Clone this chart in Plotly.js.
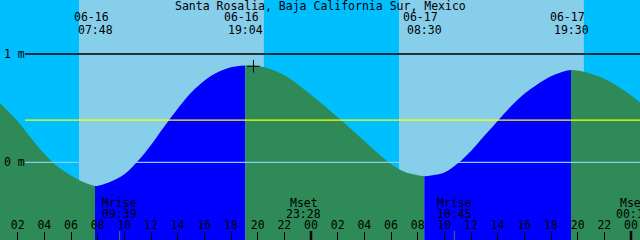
<!DOCTYPE html>
<html><head><meta charset="utf-8">
<script src="https://cdn.plot.ly/plotly-3.0.1.min.js"></script>
<style>html,body{margin:0;padding:0;background:#fff}#chart{width:640px;height:240px}</style>
</head><body><div id="chart"></div>
<script>
const stationName = 'Santa Rosalia, Baja California Sur, Mexico';

// Tide level (m)
const tideTimes = [
  '2024-06-16 00:40','2024-06-16 01:00','2024-06-16 02:00','2024-06-16 03:00','2024-06-16 04:00',
  '2024-06-16 05:00','2024-06-16 06:00','2024-06-16 07:00','2024-06-16 07:48',
  '2024-06-16 08:00','2024-06-16 09:00','2024-06-16 10:00','2024-06-16 11:00','2024-06-16 12:00',
  '2024-06-16 13:00','2024-06-16 14:00','2024-06-16 15:00','2024-06-16 16:00','2024-06-16 17:00',
  '2024-06-16 18:00','2024-06-16 19:04',
  '2024-06-16 20:00','2024-06-16 21:00','2024-06-16 22:00','2024-06-16 23:00','2024-06-17 00:00',
  '2024-06-17 01:00','2024-06-17 02:00','2024-06-17 03:00','2024-06-17 04:00','2024-06-17 05:00',
  '2024-06-17 06:00','2024-06-17 07:00','2024-06-17 08:00','2024-06-17 08:30',
  '2024-06-17 09:00','2024-06-17 10:00','2024-06-17 11:00','2024-06-17 12:00','2024-06-17 13:00',
  '2024-06-17 14:00','2024-06-17 15:00','2024-06-17 16:00','2024-06-17 17:00','2024-06-17 18:00',
  '2024-06-17 19:00','2024-06-17 19:30',
  '2024-06-17 20:00','2024-06-17 21:00','2024-06-17 22:00','2024-06-17 23:00','2024-06-18 00:00',
  '2024-06-18 00:41'
];
const tideLevels = [
  0.546, 0.506, 0.380, 0.224, 0.077,
  -0.039, -0.122, -0.187, -0.219,
  -0.218, -0.178, -0.111, 0.009, 0.160,
  0.331, 0.494, 0.642, 0.753, 0.831,
  0.878, 0.894,
  0.890, 0.859, 0.803, 0.720, 0.623,
  0.521, 0.415, 0.308, 0.197, 0.086,
  -0.016, -0.088, -0.120, -0.130,
  -0.122, -0.094, -0.011, 0.105, 0.244,
  0.382, 0.517, 0.632, 0.720, 0.794,
  0.841, 0.852,
  0.847, 0.818, 0.771, 0.702, 0.619,
  0.552
];

// High / low tide events
const extremeTimes = ['2024-06-16 07:48','2024-06-16 19:04','2024-06-17 08:30','2024-06-17 19:30'];
const extremeDateLabels = ['06-16','06-16','06-17','06-17'];
const extremeTimeLabels = ['07:48','19:04','08:30','19:30'];

// Sun
const sunriseTimes = ['2024-06-16 06:36','2024-06-17 06:36'];
const sunsetTimes  = ['2024-06-16 20:28','2024-06-17 20:28'];

// Moon
const moonTimes  = ['2024-06-16 09:39','2024-06-16 23:28','2024-06-17 10:45','2024-06-18 00:13'];
const moonNames  = ['Mrise','Mset','Mrise','Mset'];
const moonLabels = ['09:39','23:28','10:45','00:13'];

// Day boundaries
const midnightTimes = ['2024-06-17 00:00','2024-06-18 00:00'];

// Reference levels (m)
const levelValues = [1, 0.39, 0];
const levelLabels = ['1 m', '', '0 m'];

// "+" mark
const markTimes  = ['2024-06-16 19:41'];
const markLevels = [0.887];

const xRange = ['2024-06-16 00:40:30', '2024-06-18 00:40:30'];
const yRange = [-0.7175, 1.4986];

const FONT = 'DejaVu Sans Mono, monospace';
const FS = 11.5;
const H = 240;
const py = p => 1 - p / H;

// Build rising / falling fill segments, split at the extremes
const extSet = new Set(extremeTimes);
const segs = [];
let cur = [];
tideTimes.forEach((t, i) => {
  cur.push(i);
  if (extSet.has(t) && cur.length > 1) { segs.push(cur); cur = [i]; }
});
if (cur.length > 1) segs.push(cur);

const traces = [];
const base = yRange[0] - 1;
segs.forEach(seg => {
  const xs = seg.map(i => tideTimes[i]);
  const ys = seg.map(i => tideLevels[i]);
  const rising = ys[ys.length - 1] > ys[0];
  const col = rising ? '#0000FF' : '#2E8B57';
  traces.push({x: [xs[0], xs[xs.length - 1]], y: [base, base], mode: 'lines',
    line: {width: 0}, hoverinfo: 'skip', showlegend: false});
  traces.push({x: xs, y: ys, mode: 'lines', line: {shape: 'spline', width: 0, color: col},
    fill: 'tonexty', fillcolor: col, hoverinfo: 'skip', showlegend: false});
});
traces.push({x: markTimes, y: markLevels, mode: 'markers',
  marker: {symbol: 'cross-thin', size: 9, line: {width: 1, color: '#000'}},
  hoverinfo: 'skip', showlegend: false});

const shapes = [];
sunriseTimes.forEach((t, i) => shapes.push({type: 'rect', xref: 'x', yref: 'paper',
  x0: t, x1: sunsetTimes[i], y0: 0, y1: 1, fillcolor: '#87CEEB', line: {width: 0}, layer: 'below'}));
const levelColors = ['#000000', '#FFFF00', '#87CEEB'];
levelValues.forEach((v, i) => shapes.push({type: 'line', xref: 'paper', yref: 'y',
  x0: 25 / 640, x1: 1, y0: v, y1: v, line: {color: levelColors[i], width: 1.3}, layer: 'above'}));
moonTimes.forEach(t => shapes.push({type: 'line', xref: 'x', yref: 'paper',
  x0: t, x1: t, y0: 0, y1: 9 / H, line: {color: '#5a6a7a', width: 1}, layer: 'above'}));
midnightTimes.forEach(t => shapes.push({type: 'line', xref: 'x', yref: 'paper',
  x0: t, x1: t, y0: 0, y1: 9 / H, line: {color: '#000', width: 2.5}, layer: 'above'}));

const ann = [];
const txt = (o) => Object.assign({showarrow: false, font: {family: FONT, size: FS, color: '#000'},
  yanchor: 'middle'}, o);
ann.push(txt({text: stationName, xref: 'paper', yref: 'paper', x: 0.5, y: py(5.5), xanchor: 'center'}));
extremeTimes.forEach((t, i) => {
  ann.push(txt({text: extremeDateLabels[i], xref: 'x', yref: 'paper', x: t, y: py(17.5), xanchor: 'center', xshift: -4}));
  ann.push(txt({text: extremeTimeLabels[i], xref: 'x', yref: 'paper', x: t, y: py(29.5), xanchor: 'center'}));
});
moonTimes.forEach((t, i) => {
  ann.push(txt({text: moonNames[i], xref: 'x', yref: 'paper', x: t, y: py(202.5), xanchor: 'center'}));
  ann.push(txt({text: moonLabels[i], xref: 'x', yref: 'paper', x: t, y: py(213.7), xanchor: 'center'}));
});
levelValues.forEach((v, i) => {
  if (levelLabels[i]) ann.push(txt({text: levelLabels[i], xref: 'paper', yref: 'y', x: 2 / 640, y: v, xanchor: 'left'}));
});

const layout = {
  width: 640, height: H, margin: {l: 0, r: 0, t: 0, b: 0, pad: 0},
  paper_bgcolor: '#00BFFF', plot_bgcolor: '#00BFFF', showlegend: false,
  font: {family: FONT, size: FS, color: '#000'},
  xaxis: {type: 'date', range: xRange, tick0: '2024-06-16 00:00', dtick: 7200000, tickformat: '%H',
    ticks: 'inside', ticklen: 8, tickwidth: 1, tickcolor: '#000', ticklabelposition: 'inside',
    tickfont: {family: FONT, size: FS, color: '#000'}, showgrid: false, zeroline: false,
    showline: false, fixedrange: true},
  yaxis: {range: yRange, visible: false, showgrid: false, zeroline: false, fixedrange: true},
  shapes: shapes, annotations: ann
};
Plotly.newPlot('chart', traces, layout, {staticPlot: true, displayModeBar: false});
</script></body></html>
